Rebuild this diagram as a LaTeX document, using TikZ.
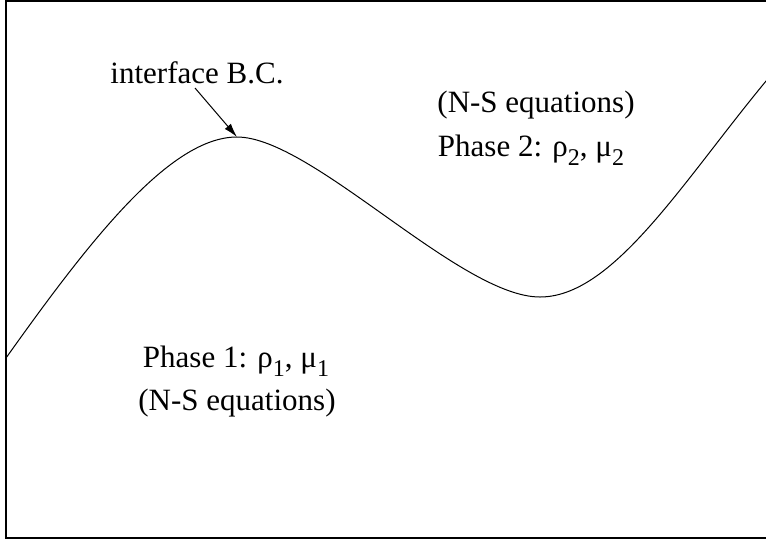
\documentclass[tikz,border=0pt]{standalone}
\usepackage{fontspec}
\setmainfont{Liberation Serif}
\usetikzlibrary{arrows.meta}
\newcommand{\sbs}[1]{\raisebox{-0.3em}{\fontsize{24}{24}\selectfont #1}}
\begin{document}
\begin{tikzpicture}[x=1pt,y=-1pt,
  lbl/.style={font=\fontsize{31}{37}\selectfont, inner sep=0pt, anchor=base},
  curve/.style={line width=1pt},
  frame/.style={line width=1.3pt},
  pointer/.style={line width=1pt,-{Latex[length=14pt,width=8pt]}}]
\useasboundingbox (0,0) rectangle (766,542);
\clip (0,0) rectangle (766,542);
\draw[frame] (6,1) rectangle (775,538);
\coordinate (peak) at (237,137);
\coordinate (trough) at (540,297);
\draw[curve] (6,358) .. controls (90,240) and (170,137) .. (peak)
  .. controls (312,137) and (460,297) .. (trough)
  .. controls (620,297) and (695,160) .. (790,53);
\node[lbl] (ibc) at (197,83) {interface B.C.};
\draw[pointer] (195,88) -- (peak);
\node[lbl] (ns2) at (536,112) {(N-S equations)};
\node[lbl] (ph2) at (531,156) {Phase 2: ρ\sbs{2}, μ\sbs{2}};
\node[lbl] (ph1) at (236,367) {Phase 1: ρ\sbs{1}, μ\sbs{1}};
\node[lbl] (ns1) at (237,410) {(N-S equations)};
\end{tikzpicture}
\end{document}
